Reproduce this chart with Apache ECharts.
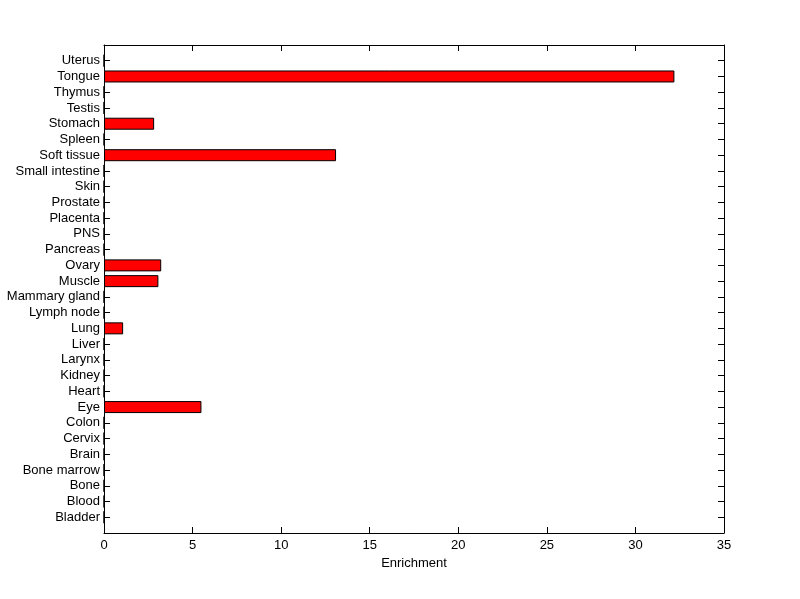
<!DOCTYPE html>
<html>
<head>
<meta charset="utf-8">
<script src="https://cdn.jsdelivr.net/npm/echarts@6/dist/echarts.min.js"></script>
<style>
  html, body { margin: 0; padding: 0; background: #fff; }
  #chart { width: 800px; height: 599px; }
</style>
</head>
<body>
<div id="chart"></div>
<script>
// tissues, bottom to top
var tissues = ['Bladder', 'Blood', 'Bone', 'Bone marrow', 'Brain', 'Cervix', 'Colon', 'Eye', 'Heart',
  'Kidney', 'Larynx', 'Liver', 'Lung', 'Lymph node', 'Mammary gland', 'Muscle', 'Ovary', 'Pancreas',
  'PNS', 'Placenta', 'Prostate', 'Skin', 'Small intestine', 'Soft tissue', 'Spleen', 'Stomach',
  'Testis', 'Thymus', 'Tongue', 'Uterus'];
var enrichment = [0, 0, 0, 0, 0, 0, 0, 5.5, 0,
  0, 0, 0, 1.08, 0, 0, 3.07, 3.23, 0,
  0, 0, 0, 0, 0, 13.1, 0, 2.83,
  0, 0, 32.2, 0];
var xTicks = [0, 35, 5]; // min, max, step

// padding slot at each end (MATLAB leaves one unit)
var cats = [''].concat(tissues, ['']);
var vals = [null].concat(enrichment, [null]);

var chart = echarts.init(document.getElementById('chart'));
var font = 'Liberation Sans, Arial, sans-serif';
var tickShow = function (i, v) { return v !== ''; };

var yBase = {
  type: 'category',
  data: cats,
  boundaryGap: false,
  axisLine: { onZero: false, lineStyle: { color: '#000', width: 1 } },
  axisTick: { inside: true, length: 6, interval: tickShow, lineStyle: { color: '#000' } },
  splitLine: { show: false }
};
var xBase = {
  type: 'value',
  min: xTicks[0],
  max: xTicks[1],
  interval: xTicks[2],
  axisLine: { show: true, onZero: false, lineStyle: { color: '#000', width: 1 } },
  axisTick: { show: true, inside: true, length: 6, lineStyle: { color: '#000' } },
  splitLine: { show: false }
};

chart.setOption({
  backgroundColor: '#fff',
  animation: false,
  grid: { left: 104, right: 76, top: 45, bottom: 66 },
  xAxis: [
    Object.assign({}, xBase, {
      position: 'bottom',
      name: 'Enrichment',
      nameLocation: 'middle',
      nameGap: 23,
      nameTextStyle: { color: '#000', fontFamily: font, fontSize: 13 },
      axisLabel: { color: '#000', fontFamily: font, fontSize: 13, margin: 6 }
    }),
    Object.assign({}, xBase, { position: 'top', axisLabel: { show: false } })
  ],
  yAxis: [
    Object.assign({}, yBase, {
      position: 'left',
      axisLabel: { color: '#000', fontFamily: font, fontSize: 13, margin: 4, interval: 0 }
    }),
    Object.assign({}, yBase, { position: 'right', axisLabel: { show: false } })
  ],
  series: [{
    type: 'bar',
    data: vals,
    barWidth: 12,
    itemStyle: { color: '#ff0000', borderColor: '#000', borderWidth: 1 }
  }]
});
</script>
</body>
</html>
